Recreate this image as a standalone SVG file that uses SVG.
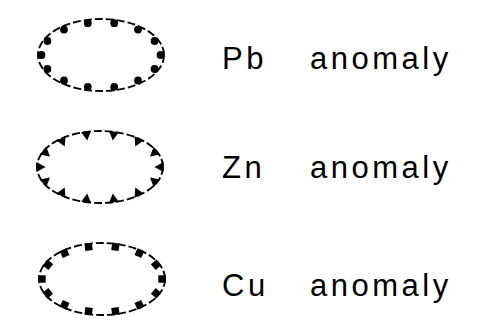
<svg xmlns="http://www.w3.org/2000/svg" xmlns:xlink="http://www.w3.org/1999/xlink" width="487" height="328" viewBox="0 0 487 328">
<style>
.ring{fill:none;stroke:#000;stroke-width:1.9;stroke-dasharray:8 3}
.lbl{font-family:"Liberation Sans",Arial,sans-serif;font-size:31px;fill:#000;letter-spacing:3.5px}
.mk{fill:#000}
</style>
<defs>
<circle id="dot" r="3.9" class="mk"/>
<polygon id="tri" points="-6.5,0 2.5,-5 2.5,5" class="mk"/>
<rect id="sq" x="-3.7" y="-3.7" width="7.4" height="7.4" class="mk"/>
</defs>
<rect width="487" height="328" fill="#fff"/>
<g id="pb-node" transform="translate(101,55)">
<ellipse class="ring" cx="0" cy="0" rx="63" ry="36"/>
<use xlink:href="#dot" x="59.5" y="0"/>
<use xlink:href="#dot" x="53.6" y="14"/>
<use xlink:href="#dot" x="37" y="25.4"/>
<use xlink:href="#dot" x="13.2" y="31.8"/>
<use xlink:href="#dot" x="-13.2" y="31.8"/>
<use xlink:href="#dot" x="-37" y="25.4"/>
<use xlink:href="#dot" x="-53.6" y="14"/>
<use xlink:href="#dot" x="-59.5" y="0"/>
<use xlink:href="#dot" x="-53.6" y="-14"/>
<use xlink:href="#dot" x="-37" y="-25.4"/>
<use xlink:href="#dot" x="-13.2" y="-31.8"/>
<use xlink:href="#dot" x="13.2" y="-31.8"/>
<use xlink:href="#dot" x="37" y="-25.4"/>
<use xlink:href="#dot" x="53.6" y="-14"/>
</g>
<g id="pb-label">
<text class="lbl" x="222" y="69">Pb</text>
<text class="lbl" x="310" y="69">anomaly</text>
</g>
<g id="zn-node" transform="translate(100,167)">
<ellipse class="ring" cx="0" cy="0" rx="63" ry="36"/>
<use xlink:href="#tri" transform="translate(61,0) rotate(0)"/>
<use xlink:href="#tri" transform="translate(55,14.7) rotate(40.1)"/>
<use xlink:href="#tri" transform="translate(38,26.4) rotate(65.5)"/>
<use xlink:href="#tri" transform="translate(13.6,33) rotate(82.6)"/>
<use xlink:href="#tri" transform="translate(-13.6,33) rotate(97.4)"/>
<use xlink:href="#tri" transform="translate(-38,26.4) rotate(114.5)"/>
<use xlink:href="#tri" transform="translate(-55,14.7) rotate(139.9)"/>
<use xlink:href="#tri" transform="translate(-61,0) rotate(180)"/>
<use xlink:href="#tri" transform="translate(-55,-14.7) rotate(220.1)"/>
<use xlink:href="#tri" transform="translate(-38,-26.4) rotate(245.5)"/>
<use xlink:href="#tri" transform="translate(-13.6,-33) rotate(262.6)"/>
<use xlink:href="#tri" transform="translate(13.6,-33) rotate(277.4)"/>
<use xlink:href="#tri" transform="translate(38,-26.4) rotate(294.5)"/>
<use xlink:href="#tri" transform="translate(55,-14.7) rotate(319.9)"/>
</g>
<g id="zn-label">
<text class="lbl" x="222" y="178">Zn</text>
<text class="lbl" x="310" y="178">anomaly</text>
</g>
<g id="cu-node" transform="translate(102,279)">
<ellipse class="ring" cx="0" cy="0" rx="63" ry="36"/>
<use xlink:href="#sq" transform="translate(60,0) rotate(0)"/>
<use xlink:href="#sq" transform="translate(54.1,14.3) rotate(40.1)"/>
<use xlink:href="#sq" transform="translate(37.4,25.8) rotate(65.5)"/>
<use xlink:href="#sq" transform="translate(13.4,32.2) rotate(82.6)"/>
<use xlink:href="#sq" transform="translate(-13.4,32.2) rotate(97.4)"/>
<use xlink:href="#sq" transform="translate(-37.4,25.8) rotate(114.5)"/>
<use xlink:href="#sq" transform="translate(-54.1,14.3) rotate(139.9)"/>
<use xlink:href="#sq" transform="translate(-60,0) rotate(180)"/>
<use xlink:href="#sq" transform="translate(-54.1,-14.3) rotate(220.1)"/>
<use xlink:href="#sq" transform="translate(-37.4,-25.8) rotate(245.5)"/>
<use xlink:href="#sq" transform="translate(-13.4,-32.2) rotate(262.6)"/>
<use xlink:href="#sq" transform="translate(13.4,-32.2) rotate(277.4)"/>
<use xlink:href="#sq" transform="translate(37.4,-25.8) rotate(294.5)"/>
<use xlink:href="#sq" transform="translate(54.1,-14.3) rotate(319.9)"/>
</g>
<g id="cu-label">
<text class="lbl" x="222" y="296">Cu</text>
<text class="lbl" x="310" y="296">anomaly</text>
</g>
<g id="connectors"/>
</svg>
